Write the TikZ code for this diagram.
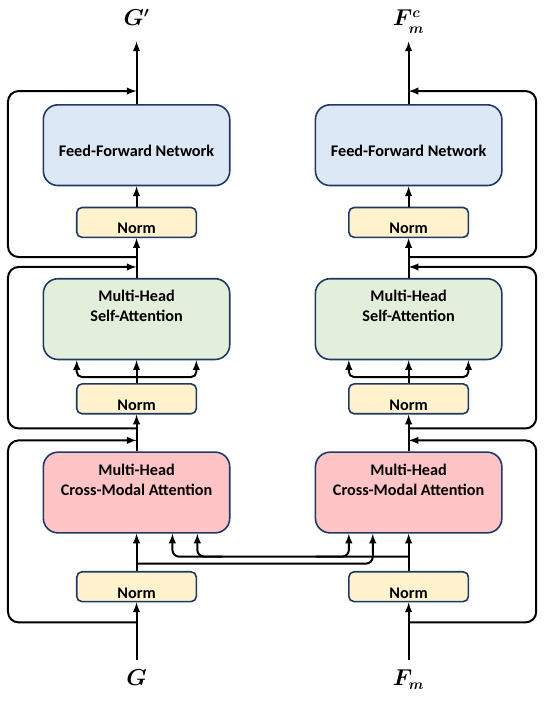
\documentclass[tikz,border=0pt]{standalone}
\usepackage{fontspec}
\setmainfont{Carlito}
\usepackage{amsmath}
\usetikzlibrary{calc}
\definecolor{edgeblue}{HTML}{1F3864}
\definecolor{ffnblue}{HTML}{DCE8F5}
\definecolor{selfgreen}{HTML}{E2EFDA}
\definecolor{crosspink}{HTML}{FFC4C6}
\definecolor{normyellow}{HTML}{FFF2CC}
\begin{document}
\begin{tikzpicture}[auto,node distance=70.5pt,every node/.style={inner sep=1pt}]
\tikzstyle{arrow}=[draw,black,-latex,line width=1.5pt]
\tikzstyle{box}=[draw=edgeblue,line width=1.2pt,rounded corners=11pt,minimum width=140.25pt,minimum height=60.75pt,align=center,font=\fontsize{12.2}{15}\selectfont\bfseries,text height=19pt,text depth=15pt]
\tikzstyle{norm}=[draw=edgeblue,fill=normyellow,line width=1.2pt,rounded corners=4pt,minimum width=90pt,minimum height=22.5pt,font=\fontsize{12.2}{15}\selectfont\bfseries,text height=17pt,text depth=0pt]
\tikzstyle{lbl}=[font=\fontsize{16}{18}\selectfont,text height=12pt,text depth=4pt,inner ysep=7.5pt]
\node[lbl](n00){$\boldsymbol{G}$};
\node[lbl,right of=n00,node distance=204.75pt](n01){$\boldsymbol{F_m}$};

\node[norm,above of=n00](n10){Norm};
\node[norm,above of=n01](n11){Norm};

\node[box,fill=crosspink,above of=n10,node distance=70.875pt](n20){Multi-Head\\Cross-Modal Attention};
\node[box,fill=crosspink,above of=n11,node distance=70.875pt](n21){Multi-Head\\Cross-Modal Attention};

\node[norm,above of=n20](n30){Norm};
\node[norm,above of=n21](n31){Norm};

\node[box,fill=selfgreen,above of=n30,node distance=60pt](n40){Multi-Head\\Self-Attention};
\node[box,fill=selfgreen,above of=n31,node distance=60pt](n41){Multi-Head\\Self-Attention};

\node[norm,above of=n40,node distance=72.75pt](n50){Norm};
\node[norm,above of=n41,node distance=72.75pt](n51){Norm};

\node[box,fill=ffnblue,text height=17pt,text depth=0pt,above of=n50,node distance=58.125pt](n60){Feed-Forward Network};
\node[box,fill=ffnblue,text height=17pt,text depth=0pt,above of=n51,node distance=58.125pt](n61){Feed-Forward Network};

\node[lbl,above of=n60,node distance=93.75pt](n70){$\boldsymbol{G'}$};
\node[lbl,above of=n61,node distance=93.75pt](n71){$\boldsymbol{F_m^c}$};

% main lines
\path[arrow](n00.north)--(n10.south);
\path[arrow](n10.north)--(n20.south);
\path[arrow](n20.north)--(n30.south);
\path[arrow](n30.north)--(n40.south);
\path[arrow](n40.north)--(n50.south);
\path[arrow](n50.north)--(n60.south);
\path[arrow](n60.north)--(n70.south);

\path[arrow](n01.north)--(n11.south);
\path[arrow](n11.north)--(n21.south);
\path[arrow](n21.north)--(n31.south);
\path[arrow](n31.north)--(n41.south);
\path[arrow](n41.north)--(n51.south);
\path[arrow](n51.north)--(n61.south);
\path[arrow](n61.north)--(n71.south);

% self-attention inputs
\path[arrow,rounded corners=4pt]($(n30.north)+(0,4.5pt)$)-|($(n40.south)+(-45pt,0)$);
\path[arrow,rounded corners=4pt]($(n30.north)+(0,4.5pt)$)-|($(n40.south)+(45pt,0)$);
\path[arrow,rounded corners=4pt]($(n31.north)+(0,4.5pt)$)-|($(n41.south)+(-45pt,0)$);
\path[arrow,rounded corners=4pt]($(n31.north)+(0,4.5pt)$)-|($(n41.south)+(45pt,0)$);

% cross-modal inputs
\path[arrow,rounded corners=5pt]($(n21.south)+(0,-17.25pt)$)-|($(n20.south)+(27pt,0)$);
\path[arrow,rounded corners=5pt]($(n20.south)+(65pt,-17.25pt)$)-|($(n20.south)+(45.75pt,0)$);
\path[arrow,rounded corners=5pt]($(n21.south)+(-70pt,-17.25pt)$)-|($(n21.south)+(-45pt,0)$);
\path[arrow,rounded corners=5pt]($(n20.south)+(0,-22.5pt)$)-|($(n21.south)+(-27pt,0)$);

% residual loops
\path[arrow,rounded corners=8pt]($(n10.south)+(0,-15pt)$)--++(-96.75pt,0)|-($(n20.north)+(0,8.25pt)$);
\path[arrow,rounded corners=8pt]($(n20.north)+(0,17.25pt)$)--++(-96.75pt,0)|-($(n40.north)+(0,8.25pt)$);
\path[arrow,rounded corners=8pt]($(n40.north)+(0,15.75pt)$)--++(-96.75pt,0)|-($(n60.north)+(0,9.75pt)$);

\path[arrow,rounded corners=8pt]($(n11.south)+(0,-15pt)$)--++(96pt,0)|-($(n21.north)+(0,8.25pt)$);
\path[arrow,rounded corners=8pt]($(n21.north)+(0,17.25pt)$)--++(96pt,0)|-($(n41.north)+(0,8.25pt)$);
\path[arrow,rounded corners=8pt]($(n41.north)+(0,15.75pt)$)--++(96pt,0)|-($(n61.north)+(0,9.75pt)$);

\useasboundingbox($(n00)+(-102.75pt,-14.25pt)$)rectangle($(n00)+(309.75pt,511.5pt)$);
\end{tikzpicture}
\end{document}
